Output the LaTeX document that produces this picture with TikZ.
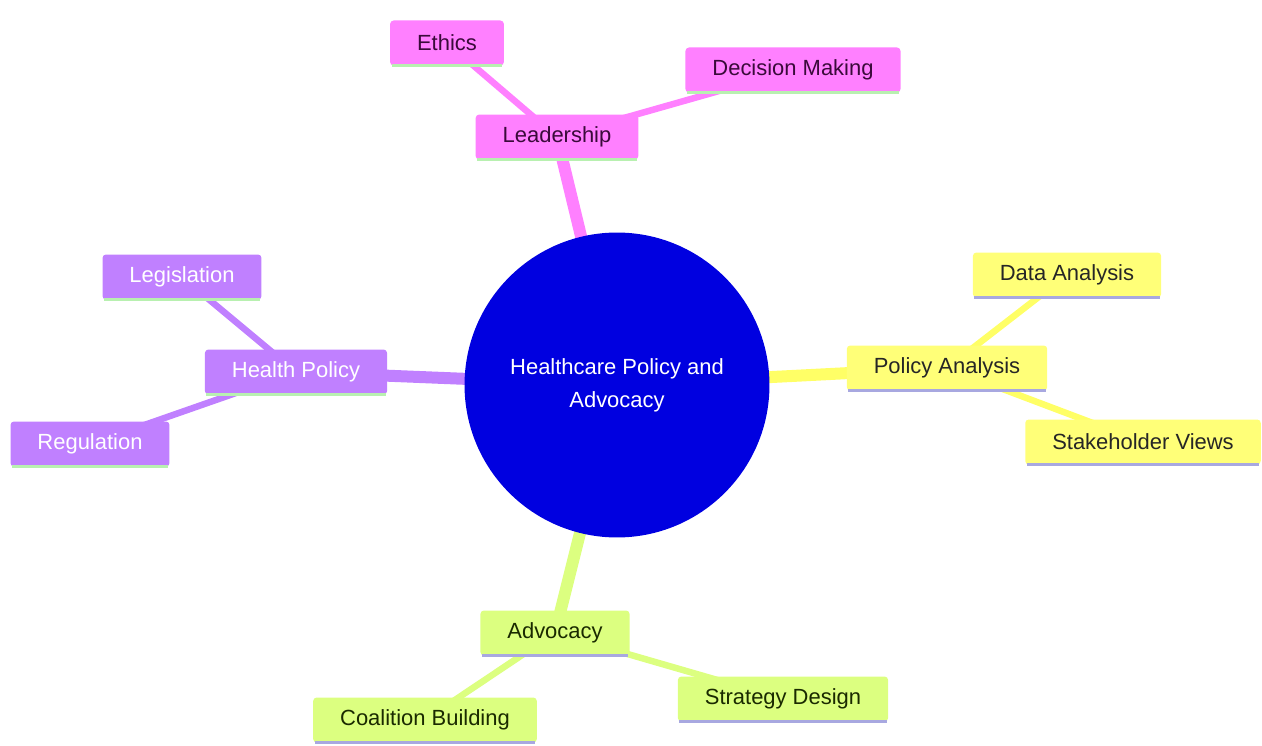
\documentclass[tikz,border=0pt]{standalone}
\usepackage{fontspec}
\setmainfont{Liberation Sans}
\usetikzlibrary{backgrounds}
\usepackage{xcolor}

\definecolor{hubblue}{HTML}{0000E0}
\definecolor{leadfill}{HTML}{FF80FF}
\definecolor{leadtext}{HTML}{3A0A3A}
\definecolor{policyfill}{HTML}{C080FF}
\definecolor{analysisfill}{HTML}{FFFF78}
\definecolor{analysisedge}{HTML}{FFFF66}
\definecolor{advocfill}{HTML}{DCFF80}
\definecolor{advoctext}{HTML}{1A2A00}
\definecolor{mintline}{HTML}{B8F0B0}
\definecolor{lavline}{HTML}{A8A8E0}

\begin{document}
\begin{tikzpicture}[
  x=0.02cm,y=-0.02cm,
  every node/.style={font=\fontsize{12.5}{18.8}\selectfont},
  topic/.style={rounded corners=2pt,inner xsep=0.54cm,inner ysep=0pt,
    minimum height=0.9cm},
  leadbox/.style={topic,fill=leadfill,text=leadtext},
  policybox/.style={topic,fill=policyfill,text=white},
  analysisbox/.style={topic,fill=analysisfill,text=black!85},
  advocbox/.style={topic,fill=advocfill,text=advoctext},
  trunk/.style={line width=0.24cm},
  twig/.style={line width=0.13cm},
  underline/.style={line width=0.06cm,shorten <=1pt,shorten >=1pt}
]
  \useasboundingbox (0,0) rectangle (1262,746);

  % The hub.
  \node[circle,fill=hubblue,text=white,align=center,inner sep=0pt,
    minimum size=6.1cm] (hub) at (617,385)
    {Healthcare Policy and\\Advocacy};

  % Leadership branch.
  \node[leadbox] (lead) at (557,137) {Leadership};
  \node[leadbox] (ethics) at (447,43) {Ethics};
  \node[leadbox] (decide) at (793,70) {Decision Making};

  % Health policy branch.
  \node[policybox] (health) at (296,372) {Health Policy};
  \node[policybox] (legis) at (182,277) {Legislation};
  \node[policybox] (regul) at (90,444) {Regulation};

  % Policy analysis branch.
  \node[analysisbox] (panal) at (947,368) {Policy Analysis};
  \node[analysisbox] (data) at (1067,275) {Data Analysis};
  \node[analysisbox] (stake) at (1143,442) {Stakeholder Views};

  % Advocacy branch.
  \node[advocbox] (advoc) at (555,633) {Advocacy};
  \node[advocbox] (coal) at (425,720) {Coalition Building};
  \node[advocbox] (strat) at (783,699) {Strategy Design};

  % Bottom rules under the boxes.
  \foreach \n/\c in {lead/mintline,ethics/mintline,decide/mintline,
      health/mintline,legis/mintline,regul/mintline,
      panal/lavline,data/lavline,stake/lavline,
      advoc/lavline,coal/lavline,strat/lavline}
    \draw[underline,draw=\c] (\n.south west) -- (\n.south east);

  % Branches behind the boxes.
  \begin{scope}[on background layer]
    \draw[trunk,leadfill] (hub.center) -- (lead.center);
    \draw[twig,leadfill] (lead.center) -- (ethics.center);
    \draw[twig,leadfill] (lead.center) -- (decide.center);
    \draw[trunk,policyfill] (hub.center) -- (health.center);
    \draw[twig,policyfill] (health.center) -- (legis.center);
    \draw[twig,policyfill] (health.center) -- (regul.center);
    \draw[trunk,analysisedge] (hub.center) -- (panal.center);
    \draw[twig,analysisedge] (panal.center) -- (data.center);
    \draw[twig,analysisedge] (panal.center) -- (stake.center);
    \draw[trunk,advocfill] (hub.center) -- (advoc.center);
    \draw[twig,advocfill] (advoc.center) -- (coal.center);
    \draw[twig,advocfill] (advoc.center) -- (strat.center);
  \end{scope}
\end{tikzpicture}
\end{document}
